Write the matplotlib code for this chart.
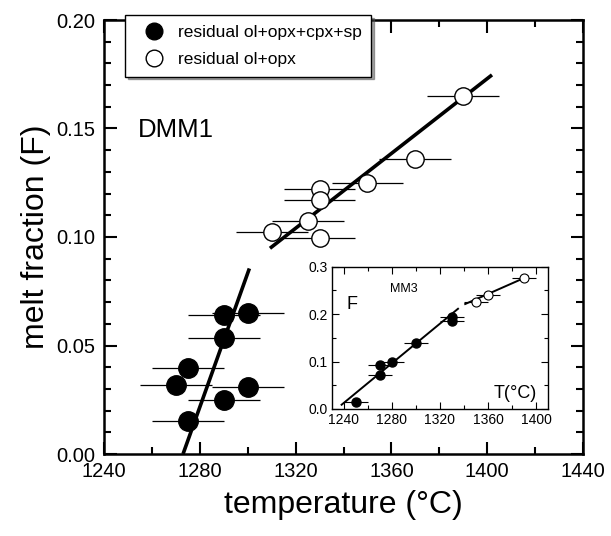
import matplotlib
matplotlib.use("Agg")
import matplotlib.pyplot as plt
from matplotlib.lines import Line2D
from matplotlib.ticker import MultipleLocator, FormatStrFormatter

plt.rcParams["font.family"] = ["Liberation Sans", "DejaVu Sans"]

# main panel (DMM1)
filled_T = [1290, 1300, 1290, 1275, 1270, 1300, 1290, 1275]
filled_F = [0.064, 0.065, 0.0535, 0.0395, 0.032, 0.031, 0.025, 0.015]
open_T = [1390, 1370, 1350, 1330, 1330, 1325, 1310, 1330]
open_F = [0.165, 0.136, 0.125, 0.122, 0.117, 0.1075, 0.1025, 0.0995]
temp_err = 15
fit_filled_T = [1273, 1300.7]
fit_filled_F = [0.0, 0.0855]
fit_open_T = [1309.3, 1402]
fit_open_F = [0.0948, 0.1747]

# inset (MM3)
in_filled_T = [1250, 1270, 1270, 1280, 1300, 1330, 1330]
in_filled_F = [0.014, 0.092, 0.071, 0.100, 0.139, 0.193, 0.185]
in_open_T = [1350, 1360, 1390]
in_open_F = [0.226, 0.240, 0.276]
in_err = 10
in_fit1_T = [1238, 1335]
in_fit1_F = [0.009, 0.211]
in_fit2_T = [1341, 1393]
in_fit2_F = [0.221, 0.279]

W, H = 611, 536
fig = plt.figure(figsize=(W / 100, H / 100), dpi=100)
ax = fig.add_axes([104 / W, 1 - 454 / H, (583 - 104) / W, (454 - 20) / H])

ax.errorbar(filled_T, filled_F, xerr=temp_err, fmt="none", ecolor="black", elinewidth=0.9, capsize=0, zorder=2)
ax.errorbar(open_T, open_F, xerr=temp_err, fmt="none", ecolor="black", elinewidth=0.9, capsize=0, zorder=2)
ax.plot(fit_filled_T, fit_filled_F, color="black", lw=2.6, zorder=3, solid_capstyle="butt")
ax.plot(fit_open_T, fit_open_F, color="black", lw=2.6, zorder=3, solid_capstyle="butt")
ax.plot(filled_T, filled_F, "o", ms=14, mfc="black", mec="black", zorder=4)
ax.plot(open_T, open_F, "o", ms=12.5, mfc="white", mec="black", mew=1.0, zorder=4)

ax.set_xlim(1240, 1440)
ax.set_ylim(0, 0.20)
ax.xaxis.set_major_locator(MultipleLocator(40))
ax.xaxis.set_minor_locator(MultipleLocator(20))
ax.yaxis.set_major_locator(MultipleLocator(0.05))
ax.yaxis.set_minor_locator(MultipleLocator(0.01))
ax.yaxis.set_major_formatter(FormatStrFormatter("%.2f"))
ax.tick_params(which="both", direction="in", top=True, right=True, width=1.5, labelsize=14.5, pad=6)
ax.tick_params(which="major", length=9)
ax.tick_params(which="minor", length=5)
for s in ax.spines.values():
    s.set_linewidth(1.8)
ax.set_xlabel("temperature (°C)", fontsize=23, labelpad=6)
ax.set_ylabel("melt fraction (F)", fontsize=23, labelpad=4)
ax.text(1254, 0.146, "DMM1", fontsize=18.5)

handles = [
    Line2D([], [], marker="o", ls="none", ms=12, mfc="black", mec="black"),
    Line2D([], [], marker="o", ls="none", ms=12, mfc="white", mec="black", mew=1.0),
]
leg = ax.legend(handles, ["residual ol+opx+cpx+sp", "residual ol+opx"], loc="upper left",
                bbox_to_anchor=(125 / W, 1 - 15 / H), bbox_transform=fig.transFigure,
                borderaxespad=0, fancybox=False, shadow=True, edgecolor="black",
                framealpha=1, fontsize=12.5, handlelength=2.2, handletextpad=0.3,
                borderpad=0.55, labelspacing=0.7)
leg.get_frame().set_linewidth(1.0)

# inset
ins = fig.add_axes([332 / W, 1 - 409 / H, (548 - 332) / W, (409 - 266.5) / H])
ins.errorbar(in_filled_T, in_filled_F, xerr=in_err, fmt="none", ecolor="black", elinewidth=0.8, capsize=0, zorder=2)
ins.errorbar(in_open_T, in_open_F, xerr=in_err, fmt="none", ecolor="black", elinewidth=0.8, capsize=0, zorder=2)
ins.plot(in_fit1_T, in_fit1_F, color="black", lw=1.4, zorder=3)
ins.plot(in_fit2_T, in_fit2_F, color="black", lw=1.4, zorder=3)
ins.plot(in_filled_T, in_filled_F, "o", ms=6.5, mfc="black", mec="black", zorder=4)
ins.plot(in_open_T, in_open_F, "o", ms=6.5, mfc="white", mec="black", mew=0.8, zorder=4)
ins.set_xlim(1230, 1410)
ins.set_ylim(0, 0.3)
ins.xaxis.set_major_locator(MultipleLocator(40))
ins.xaxis.set_minor_locator(MultipleLocator(20))
ins.yaxis.set_major_locator(MultipleLocator(0.1))
ins.yaxis.set_minor_locator(MultipleLocator(0.05))
ins.tick_params(which="both", direction="in", top=True, right=True, width=0.8, labelsize=10, pad=3)
ins.tick_params(which="major", length=5)
ins.tick_params(which="minor", length=3)
for s in ins.spines.values():
    s.set_linewidth(1.0)
ins.text(1242, 0.21, "F", fontsize=13)
ins.text(1278, 0.246, "MM3", fontsize=9)
ins.text(1401, 0.024, "T(°C)", fontsize=13, ha="right")

fig.savefig("out.png", dpi=100)
